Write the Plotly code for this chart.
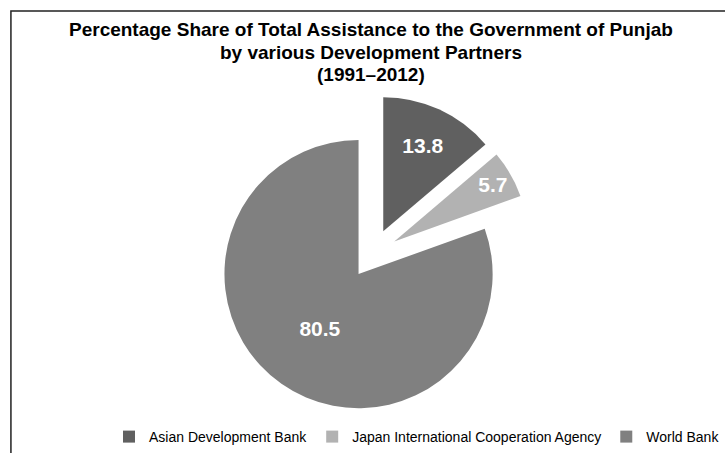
import plotly.graph_objects as go

partners = ["Asian Development Bank", "Japan International Cooperation Agency", "World Bank"]
shares = [13.8, 5.7, 80.5]
colors = ["#606060", "#b2b2b2", "#808080"]
title_lines = [
    "Percentage Share of Total Assistance to the Government of Punjab",
    "by various Development Partners",
    "(1991–2012)",
]

W, H = 725, 453
R_dom = 160.0
cx, cy = 375.4, 255.5
FONT = "Liberation Sans, Arial, sans-serif"

fig = go.Figure(go.Pie(
    labels=partners,
    values=shares,
    sort=False,
    direction="clockwise",
    rotation=0,
    pull=[0.185, 0.185, 0.185],
    marker=dict(colors=colors, line=dict(width=0)),
    texttemplate="%{value:.1f}",
    textposition="inside",
    insidetextorientation="horizontal",
    textfont=dict(family=FONT, size=21, color="white", weight="bold"),
    domain=dict(x=[(cx - R_dom) / W, (cx + R_dom) / W], y=[1 - (cy + R_dom) / H, 1 - (cy - R_dom) / H]),
    hoverinfo="label+value",
))

title_y = [30, 52.5, 75]
annotations = [
    dict(text="<b>%s</b>" % t, x=374 / W, y=1 - yy / H, xref="paper", yref="paper",
         xanchor="center", yanchor="middle", showarrow=False,
         font=dict(family=FONT, size=19, color="black"))
    for t, yy in zip(title_lines, title_y)
]

fig.update_layout(
    width=W, height=H,
    margin=dict(l=0, r=0, t=0, b=0),
    paper_bgcolor="white",
    plot_bgcolor="white",
    font=dict(family=FONT, color="black"),
    annotations=annotations,
    legend=dict(
        orientation="h",
        x=420 / W, xanchor="center",
        y=1 - 440 / H, yanchor="middle",
        font=dict(size=14, color="black"),
        bgcolor="rgba(0,0,0,0)",
        itemclick=False, itemdoubleclick=False,
    ),
    shapes=[dict(
        type="rect", xref="paper", yref="paper",
        x0=11 / W, x1=1.05, y0=-0.05, y1=1 - 11 / H,
        line=dict(color="#222222", width=1.5),
        fillcolor="rgba(0,0,0,0)", layer="below",
    )],
)

fig.write_html("out.html")
